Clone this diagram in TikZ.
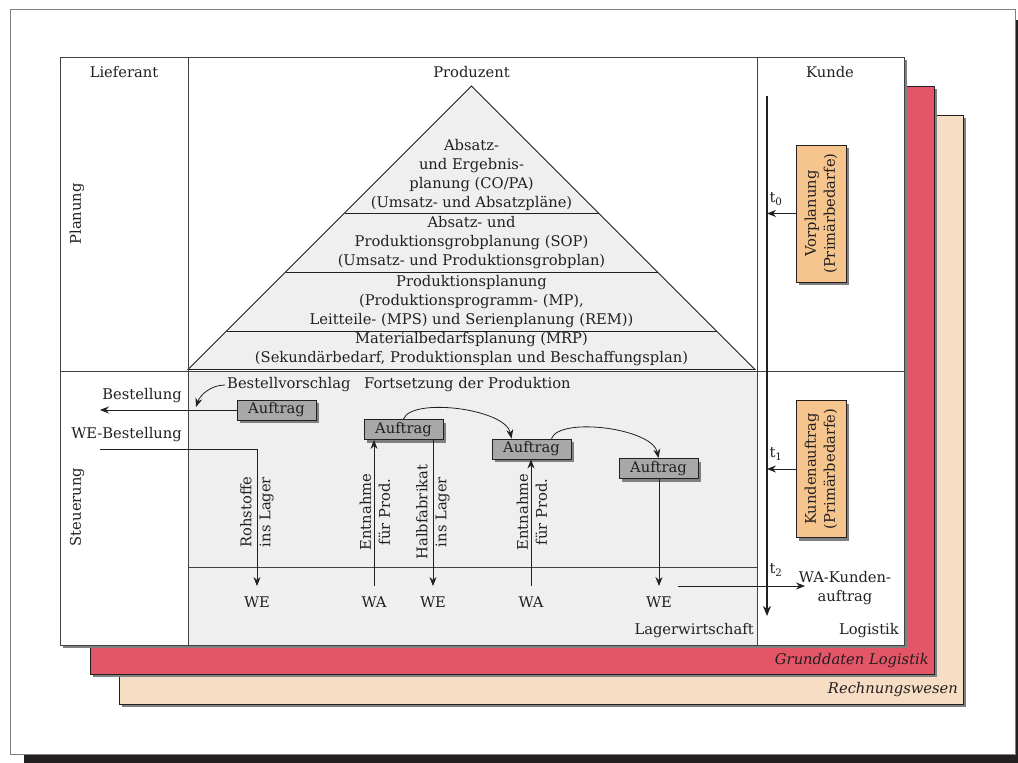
\documentclass[tikz,border=0pt]{standalone}
\usepackage{fontspec}
\setmainfont{DejaVu Serif}
\usetikzlibrary{arrows.meta,shadows}
\definecolor{redlayer}{HTML}{E35567}
\definecolor{beigelayer}{HTML}{F6DDC4}
\definecolor{orangebox}{HTML}{F5C58D}
\definecolor{lightfill}{HTML}{EFEFEF}
\definecolor{boxgray}{HTML}{A8A8A8}
\definecolor{shadowgray}{HTML}{808080}
\definecolor{ink}{HTML}{231F20}
\tikzset{
  txt/.style={inner sep=2pt, text=ink},
  vlabel/.style={txt, rotate=90, align=center},
  auftrag/.style={draw=ink, line width=0.9pt, fill=boxgray, minimum width=79pt, minimum height=20pt, inner sep=0pt, text=ink,
     drop shadow={shadow xshift=3pt, shadow yshift=-3pt, fill=shadowgray, opacity=1}},
  kbox/.style={draw=ink, line width=0.9pt, fill=orangebox, rotate=90, align=center, minimum width=137pt, minimum height=50pt, inner sep=0pt, text=ink,
     drop shadow={shadow xshift=3pt, shadow yshift=-3pt, fill=shadowgray, opacity=1}},
  arr/.style={draw=ink, line width=0.8pt, -{Stealth[length=9pt,width=7pt,inset=3pt]}},
  grid/.style={draw=ink!85, line width=1pt},
}
\begin{document}
\begin{tikzpicture}[x=1pt,y=-1pt, font=\fontsize{14.7}{19}\selectfont]
\useasboundingbox (0,0) rectangle (1018,763);
\fill[white] (0,0) rectangle (1018,763);
% outer frame with black shadow
\fill[ink] (24,20) rectangle (1018,763);
\filldraw[fill=white, draw=gray, line width=1pt] (10,9) rectangle (1015,754);
% beige layer
\fill[shadowgray] (122,118) rectangle (966,707);
\filldraw[fill=beigelayer, draw=ink, line width=0.8pt] (119,115) rectangle (963,704);
% red layer
\fill[shadowgray] (93,89) rectangle (937,677);
\filldraw[fill=redlayer, draw=ink, line width=0.8pt] (90,86) rectangle (934,674);
% main table
\fill[shadowgray] (63,60) rectangle (907,648);
\filldraw[fill=white, draw=ink!85, line width=1pt] (60,57) rectangle (904,645);
\fill[lightfill] (188,371) rectangle (757,645);
% pyramid
\filldraw[fill=lightfill, draw=ink, line width=0.9pt] (471.5,86) -- (755,369.5) -- (188,369.5) -- cycle;
\draw[ink, line width=0.9pt] (344.5,213) -- (598.5,213);
\draw[ink, line width=0.9pt] (285.5,272) -- (657.5,272);
\draw[ink, line width=0.9pt] (226.5,331) -- (716.5,331);
% grid
\draw[grid] (188,57) -- (188,645);
\draw[grid] (757,57) -- (757,645);
\draw[grid] (60,371) -- (904,371);
\draw[grid] (188,567) -- (757,567);
% headers
\node[txt] (lief) at (124,72) {Lieferant};
\node[txt] (prod) at (471.5,72) {Produzent};
\node[txt] (kunde) at (830,72) {Kunde};
\node[vlabel] (plan) at (77,214) {Planung};
\node[vlabel] (steu) at (77,507) {Steuerung};
% pyramid texts
\node[txt, align=center] (p1) at (471.5,175) {Absatz-\\und Ergebnis-\\planung (CO/PA)\\(Umsatz- und Absatzpläne)};
\node[txt, align=center] (p2) at (471.5,243) {Absatz- und\\Produktionsgrobplanung (SOP)\\(Umsatz- und Produktionsgrobplan)};
\node[txt, align=center] (p3) at (471.5,302) {Produktionsplanung\\(Produktionsprogramm- (MP),\\Leitteile- (MPS) und Serienplanung (REM))};
\node[txt, align=center] (p4) at (471.5,349.5) {Materialbedarfsplanung (MRP)\\(Sekundärbedarf, Produktionsplan und Beschaffungsplan)};
% Steuerung texts
\node[txt, anchor=east] (best) at (184,396) {Bestellung};
\node[txt, anchor=west] (bv) at (225,385) {Bestellvorschlag};
\node[txt, anchor=west] (fort) at (362,385) {Fortsetzung der Produktion};
\node[txt, anchor=east] (webest) at (184,435) {WE-Bestellung};
% Auftrag boxes
\node[auftrag] (a0) at (276.5,410) {Auftrag};
\node[auftrag] (a1) at (403.5,429.5) {Auftrag};
\node[auftrag] (a2) at (531.5,449) {Auftrag};
\node[auftrag] (a3) at (658.5,468.5) {Auftrag};
% WE / WA labels
\node[txt] (we1) at (257,602) {WE};
\node[txt] (wa1) at (374,602) {WA};
\node[txt] (we2) at (433,602) {WE};
\node[txt] (wa2) at (531,602) {WA};
\node[txt] (we3) at (659,602) {WE};
\coordinate (we1t) at (257,586);
\coordinate (wa1t) at (374,586);
\coordinate (we2t) at (433,586);
\coordinate (wa2t) at (531,586);
\coordinate (we3t) at (659,586);
% vertical labels
\node[vlabel] (l1) at (257,512) {Rohstoffe\\ins Lager};
\node[vlabel] (l2) at (375,512) {Entnahme\\für Prod.};
\node[vlabel] (l3) at (433,512) {Halbfabrikat\\ins Lager};
\node[vlabel] (l4) at (532,512) {Entnahme\\für Prod.};
\node[txt, anchor=east] (lager) at (756,631) {Lagerwirtschaft};
% connectors Steuerung
\coordinate (bestEnd) at (100,410);
\draw[arr] (a0.west) -- (bestEnd);
\coordinate (bvEnd) at (196,407);
\draw[arr] (bv.west) .. controls +(-14,0) and +(4,-12) .. (bvEnd);
\coordinate (weS) at (100,449);
\draw[arr] (weS) -| (we1t);
\draw[arr] (wa1t) -- (wa1t |- a1.south);
\draw[arr] (a1.south -| we2t) -- (we2t);
\draw[arr] (wa2t) -- (wa2t |- a2.south);
\draw[arr] (a3.south -| we3t) -- (we3t);
\draw[arr] (a1.north) .. controls +(8,-22) and +(-6,-30) .. ([xshift=-20pt]a2.north);
\draw[arr] ([xshift=20pt]a2.north) .. controls +(8,-22) and +(-6,-30) .. (a3.north);
% Kunde column
\coordinate (tlTop) at (767,96);
\coordinate (tlBot) at (767,616);
\draw[draw=ink, line width=1.4pt, -{Stealth[length=10pt,width=8pt,inset=3pt]}] (tlTop) -- (tlBot);
\node[kbox] (vp) at (821,213.5) {Vorplanung\\(Primärbedarfe)};
\node[kbox] (ka) at (821,469) {Kundenauftrag\\(Primärbedarfe)};
\draw[arr] (vp.north) -- (vp.north -| tlTop);
\draw[arr] (ka.north) -- (ka.north -| tlTop);
\node[txt] (t0) at (776,199) {t\textsubscript{0}};
\node[txt] (t1) at (776,454) {t\textsubscript{1}};
\node[txt] (t2) at (776,570) {t\textsubscript{2}};
\node[txt, align=center] (wak) at (845,588) {WA-Kunden-\\auftrag};
\coordinate (wakS) at (678,586);
\coordinate (wakE) at (805,586);
\draw[arr] (wakS) -- (wakE);
\node[txt, anchor=east] (logi) at (901,631) {Logistik};
\node[txt, anchor=east, font=\fontsize{14.7}{19}\selectfont\itshape] (grund) at (931,661) {Grunddaten Logistik};
\node[txt, anchor=east, font=\fontsize{14.7}{19}\selectfont\itshape] (rech) at (960,690) {Rechnungswesen};
\end{tikzpicture}
\end{document}
